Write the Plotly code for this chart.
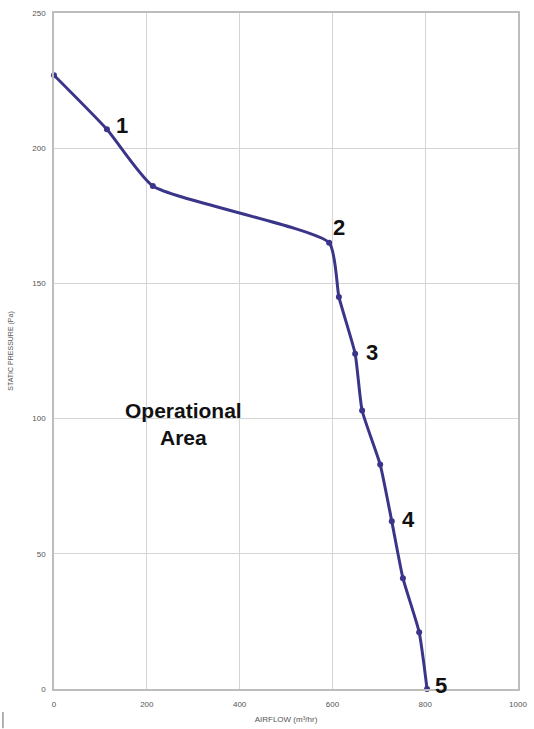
import plotly.graph_objects as go

# Fan curve: airflow (m³/hr) vs static pressure (Pa)
airflow = [0, 114, 213, 593, 614, 649, 664, 703, 728, 752, 787, 804]
pressure = [227, 207, 186, 165, 145, 124, 103, 83, 62, 41, 21, 0]

# Numbered operating points (index into the series above)
point_labels = ["1", "2", "3", "4", "5"]
point_index = [1, 3, 5, 8, 11]

x_ticks = [0, 200, 400, 600, 800, 1000]
y_ticks = [0, 50, 100, 150, 200, 250]

line_color = "#3b3589"
font_family = "Liberation Sans, Arial, sans-serif"

fig = go.Figure()
fig.add_trace(go.Scatter(
    x=airflow, y=pressure, mode="lines+markers",
    line=dict(color=line_color, width=3, shape="spline", smoothing=0.5),
    marker=dict(color=line_color, size=6),
    hoverinfo="skip", showlegend=False, cliponaxis=False,
))

# Numbered labels beside the operating points
label_offsets = [(15, 4), (10, 15), (17, 1), (17, 2), (14, 4)]
for lab, idx, (dx, dy) in zip(point_labels, point_index, label_offsets):
    fig.add_annotation(
        x=airflow[idx], y=pressure[idx], text=f"<b>{lab}</b>",
        showarrow=False, xshift=dx, yshift=dy,
        font=dict(family=font_family, size=22, color="#111111"),
    )

fig.add_annotation(
    x=280, y=98, text="<b>Operational<br>Area</b>", showarrow=False,
    font=dict(family=font_family, size=21, color="#111111"),
    align="center",
)

axis_common = dict(
    showgrid=True, gridcolor="#d4d4d4", gridwidth=1,
    showline=True, linecolor="#bdbdbd", linewidth=1.5, mirror=True,
    zeroline=False, ticks="", automargin=False,
    tickfont=dict(family=font_family, size=8, color="#555555"),
)

fig.update_layout(
    width=534, height=729,
    margin=dict(l=54, r=16, t=13, b=40),
    paper_bgcolor="white", plot_bgcolor="white",
    xaxis=dict(range=[0, 1000], tickvals=x_ticks, ticklabelstandoff=7,
               title=dict(text="AIRFLOW (m³/hr)", standoff=8,
                          font=dict(family=font_family, size=8, color="#555555")),
               **axis_common),
    yaxis=dict(range=[0, 250], tickvals=y_ticks, ticklabelstandoff=5,
               title=dict(text="STATIC PRESSURE (Pa)", standoff=18,
                          font=dict(family=font_family, size=7, color="#555555")),
               **axis_common),
)

# Thin mark at the lower-left page edge
fig.add_shape(type="line", xref="paper", yref="paper",
              x0=-0.110, x1=-0.110, y0=-0.034, y1=-0.058,
              line=dict(color="#666666", width=1))

fig.write_html("out.html")
